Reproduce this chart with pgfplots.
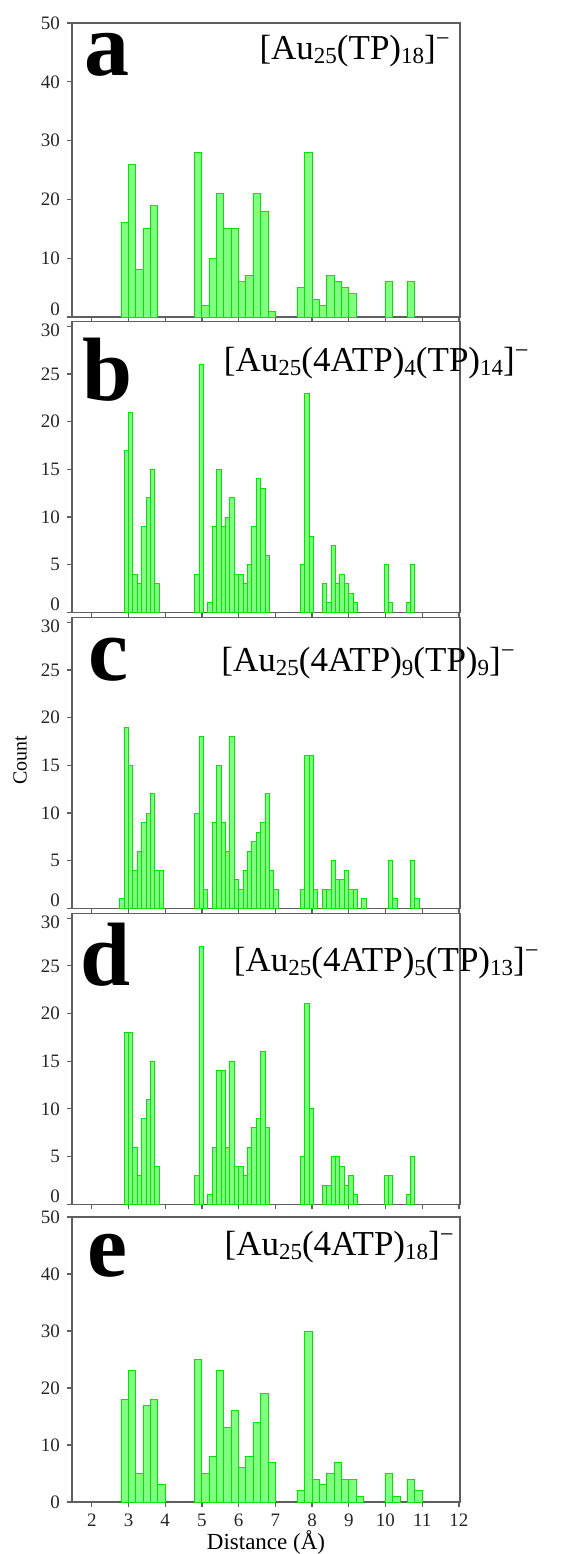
\documentclass[border=0pt]{standalone}
\usepackage{pgfplots}
\pgfplotsset{compat=1.18}
\usepackage{fontspec}
\setmainfont{Liberation Serif}
\definecolor{barfill}{RGB}{128,255,128}
\definecolor{baredge}{RGB}{0,230,0}
\definecolor{framec}{RGB}{95,95,95}
\newcommand{\sub}[1]{\raisebox{-0.12em}{\fontsize{11.5}{11.5}\selectfont #1}}
\newcommand{\formula}[1]{\fontsize{17.5}{17.5}\selectfont #1}
\newcommand{\letter}[1]{\fontsize{45}{45}\selectfont\bfseries #1}
\newcommand{\low}[1]{\smash{\raisebox{-5pt}{#1}}}
\pgfplotsset{
  panel/.style={
    scale only axis, width=194pt,
    xmin=1.46, xmax=12.03, ymin=0,
    axis line style={framec, line width=0.7pt},
    tick style={framec, line width=0.6pt},
    tick align=outside, major tick length=2.5pt,
    xtick={2,3,...,12}, xtick pos=lower, ytick pos=left,
    ticklabel style={font=\fontsize{9.5}{9.5}\selectfont, text=black!85},
    /pgf/number format/assume math mode=true,
    ybar, bar shift=0pt,
    anchor=north west,
  },
  zeroup/.style={extra y ticks={0}, extra y tick style={yticklabel style={yshift=#1}}},
  wide/.style={bar width=0.2},
  narrow/.style={bar width=0.12, ymax=30.5, height=145.4pt, ytick={5,10,...,30},
     yticklabels={5,10,15,20,25,\low{30}}, zeroup=4pt},
  bars/.style={fill=barfill, draw=baredge, line width=0.5pt},
}
\begin{document}
\begin{tikzpicture}
\useasboundingbox (0,0) rectangle (281.5pt,-777pt);
% panel a
\begin{axis}[panel, wide, at={(36pt,-11.5pt)}, height=147pt, ymax=50, ytick={10,20,...,50}, zeroup=4pt, xticklabels={}]
\addplot[bars] coordinates {(2.9,16) (3.1,26) (3.3,8) (3.5,15) (3.7,19)
(4.9,28) (5.1,2) (5.3,10) (5.5,21) (5.7,15) (5.9,15) (6.1,6) (6.3,7) (6.5,21) (6.7,18) (6.9,1)
(7.7,5) (7.9,28) (8.1,3) (8.3,2) (8.5,7) (8.7,6) (8.9,5) (9.1,4)
(10.1,6) (10.7,6)};
\end{axis}
% panel b
\begin{axis}[panel, narrow, at={(36pt,-160.8pt)}, xticklabels={}]
\addplot[bars] coordinates {(2.94,17) (3.06,21) (3.18,4) (3.30,3) (3.42,9) (3.54,12) (3.66,15) (3.78,3)
(4.86,4) (4.98,26) (5.22,1) (5.34,9) (5.46,15) (5.58,9) (5.70,10) (5.82,12) (5.94,4) (6.06,4) (6.18,3) (6.30,5) (6.42,9) (6.54,14) (6.66,13) (6.78,6)
(7.74,5) (7.86,23) (7.98,8) (8.34,3) (8.46,1) (8.58,7) (8.70,3) (8.82,4) (8.94,3) (9.06,2) (9.18,1)
(10.02,5) (10.14,1) (10.62,1) (10.74,5)};
\end{axis}
% panel c
\begin{axis}[panel, narrow, at={(36pt,-308.8pt)}, xticklabels={}]
\addplot[bars] coordinates {(2.82,1) (2.94,19) (3.06,15) (3.18,4) (3.30,6) (3.42,9) (3.54,10) (3.66,12) (3.78,4) (3.90,4)
(4.86,10) (4.98,18) (5.10,2) (5.34,9) (5.46,15) (5.58,9) (5.70,6) (5.82,18) (5.94,3) (6.06,2) (6.18,4) (6.30,6) (6.42,7) (6.54,8) (6.66,9) (6.78,12) (6.90,4) (7.02,2)
(7.74,2) (7.86,16) (7.98,16) (8.10,2) (8.34,2) (8.46,2) (8.58,5) (8.70,3) (8.82,3) (8.94,4) (9.06,2) (9.18,2) (9.42,1)
(10.14,5) (10.26,1) (10.74,5) (10.86,1)};
\end{axis}
% panel d
\begin{axis}[panel, narrow, at={(36pt,-456.7pt)}, xticklabels={}]
\addplot[bars] coordinates {(2.94,18) (3.06,18) (3.18,6) (3.30,3) (3.42,9) (3.54,11) (3.66,15) (3.78,4)
(4.86,3) (4.98,27) (5.22,1) (5.34,6) (5.46,14) (5.58,14) (5.70,6) (5.82,15) (5.94,4) (6.06,4) (6.18,3) (6.30,6) (6.42,8) (6.54,9) (6.66,16) (6.78,8)
(7.74,5) (7.86,21) (7.98,10) (8.34,2) (8.46,2) (8.58,5) (8.70,5) (8.82,4) (8.94,2) (9.06,3) (9.18,1)
(10.02,3) (10.14,3) (10.62,1) (10.74,5)};
\end{axis}
% panel e
\begin{axis}[panel, wide, at={(36pt,-608.5pt)}, height=142.5pt, ymax=50, ytick={0,10,...,50},
  xlabel={Distance (Å)}, xlabel style={font=\fontsize{11.5}{11.5}\selectfont, yshift=5pt}]
\addplot[bars] coordinates {(2.9,18) (3.1,23) (3.3,5) (3.5,17) (3.7,18) (3.9,3)
(4.9,25) (5.1,5) (5.3,8) (5.5,23) (5.7,13) (5.9,16) (6.1,6) (6.3,8) (6.5,14) (6.7,19) (6.9,7)
(7.7,2) (7.9,30) (8.1,4) (8.3,3) (8.5,5) (8.7,7) (8.9,4) (9.1,4) (9.3,1)
(10.1,5) (10.3,1) (10.7,4) (10.9,2)};
\end{axis}
% labels
\node[rotate=90, font=\fontsize{10}{10}\selectfont] at (10pt,-380pt) {Count};
\node[anchor=base west, inner sep=0] at (42pt,-37.5pt) {\letter{a}};
\node[anchor=base west, inner sep=0] at (41pt,-200pt) {\letter{b}};
\node[anchor=base west, inner sep=0] at (44pt,-340pt) {\letter{c}};
\node[anchor=base west, inner sep=0] at (40pt,-492.5pt) {\letter{d}};
\node[anchor=base west, inner sep=0] at (43.5pt,-638pt) {\letter{e}};
\node[anchor=base east, inner sep=0] at (225.5pt,-29.5pt) {\formula{[Au\sub{25}(TP)\sub{18}]\textsuperscript{−}}};
\node[anchor=base east, inner sep=0] at (265pt,-185.5pt) {\formula{[Au\sub{25}(4ATP)\sub{4}(TP)\sub{14}]\textsuperscript{−}}};
\node[anchor=base east, inner sep=0] at (258pt,-335.5pt) {\formula{[Au\sub{25}(4ATP)\sub{9}(TP)\sub{9}]\textsuperscript{−}}};
\node[anchor=base east, inner sep=0] at (270pt,-485.5pt) {\formula{[Au\sub{25}(4ATP)\sub{5}(TP)\sub{13}]\textsuperscript{−}}};
\node[anchor=base east, inner sep=0] at (227.5pt,-627.5pt) {\formula{[Au\sub{25}(4ATP)\sub{18}]\textsuperscript{−}}};
\end{tikzpicture}
\end{document}
